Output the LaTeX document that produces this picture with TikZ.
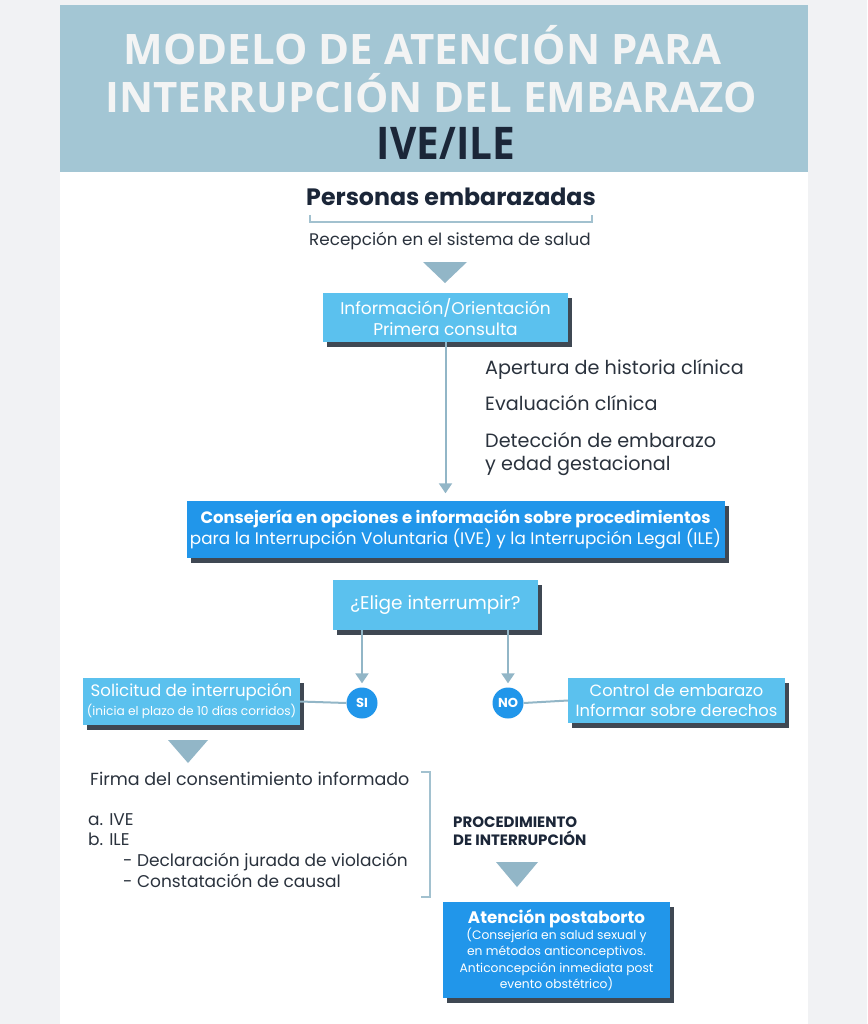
\documentclass[tikz,border=0pt]{standalone}
\usepackage{fontspec}
\setmainfont{Poppins}
\newfontfamily\titlefont{Open Sans}
\newfontfamily\titlenarrow[FakeStretch=0.9]{Open Sans}
\usetikzlibrary{positioning,shadows,arrows.meta}

\definecolor{sidegray}{HTML}{F1F2F4}
\definecolor{headerblue}{HTML}{A3C6D4}
\definecolor{titlewhite}{HTML}{F3F4F4}
\definecolor{navy}{HTML}{1B2638}
\definecolor{darktext}{HTML}{2A323D}
\definecolor{lightblue}{HTML}{5BC1EE}
\definecolor{midblue}{HTML}{2196EA}
\definecolor{steelgray}{HTML}{92B6C7}
\definecolor{shadowblue}{HTML}{1E2836}

\newcommand{\fsz}[2]{\fontsize{#1}{#2}\selectfont}

\tikzset{
  boxshadow/.style={general shadow={fill=shadowblue, shadow xshift=4pt, shadow yshift=-5pt, opacity=0.85}},
  lightbox/.style={fill=lightblue, text=white, align=center, inner sep=0pt, boxshadow},
  bluebox/.style={fill=midblue, text=white, align=center, inner sep=0pt, boxshadow},
  answer/.style={circle, fill=midblue, text=white, minimum size=31pt, inner sep=0pt, font=\bfseries\fsz{13}{13}},
  flowarrow/.style={draw=steelgray, line width=2pt, -{Triangle[width=13pt,length=10pt]}},
  flowline/.style={draw=steelgray, line width=2pt},
  bracketline/.style={draw=steelgray!85, line width=1.5pt},
  bodytext/.style={text=darktext, inner sep=0pt, text height=0.72em, text depth=0.2em}
}

\begin{document}
\begin{tikzpicture}[x=1pt, y=-1pt]
    % Page and header band
    \useasboundingbox (0,0) rectangle (867,1024);
    \fill[sidegray] (0,0) rectangle (867,1024);
    \fill[white] (60,172) rectangle (808,1024);
    \fill[headerblue] (60,5) rectangle (808,172);

    % Title
    \node[text=titlewhite, font=\titlefont\bfseries\fsz{42}{42}, inner sep=0pt, text height=30pt, text depth=0pt] (title1) at (422.5,50) {MODELO DE ATENCIÓN PARA};
    \node[text=titlewhite, font=\titlefont\bfseries\fsz{42}{42}, inner sep=0pt, text height=30pt, text depth=0pt] (title2) at (431,98) {INTERRUPCIÓN DEL EMBARAZO};
    \node[text=navy, font=\titlenarrow\bfseries\fsz{45}{45}, inner sep=0pt, text height=32pt, text depth=0pt] (title3) at (446,143.5) {IVE/ILE};

    % Entry
    \node[text=navy, font=\bfseries\fsz{23.7}{23.7}, inner sep=0pt] (personas) at (451,197) {Personas embarazadas};
    \draw[bracketline] (310,215) -- (310,222) -- (592,222) -- (592,215);
    \node[bodytext, font=\fsz{16.8}{16.8}] (recepcion) at (450,243) {Recepción en el sistema de salud};

    % Big down triangles
    \foreach \cx/\ty/\w/\h in {445/262/44/21, 188/740/40/23, 517/862/42/25} {
        \fill[steelgray] (\cx-\w/2,\ty) -- (\cx+\w/2,\ty) -- (\cx,\ty+\h) -- cycle;
    }

    % Boxes
    \node[lightbox, minimum width=245pt, minimum height=49pt, font=\fsz{17}{21}] (info) at (445.5,317.5)
        {Información/Orientación\\Primera consulta};
    \node[bluebox, minimum width=538pt, minimum height=57pt, font=\fsz{16.8}{20}] (conse) at (455.5,529)
        {{\bfseries\fsz{16.5}{20}Consejería en opciones e información sobre procedimientos}\\para la Interrupción Voluntaria (IVE) y la Interrupción Legal (ILE)};
    \node[lightbox, minimum width=205pt, minimum height=50pt, font=\fsz{18.5}{18.5}] (elige) at (435.5,605) {¿Elige interrumpir?};
    \node[lightbox, minimum width=217pt, minimum height=47pt, font=\fsz{16.6}{19}] (solic) at (191.5,701.5)
        {Solicitud de interrupción\\{\fsz{12.2}{14}(inicia el plazo de 10 días corridos)}};
    \node[lightbox, minimum width=217pt, minimum height=45pt, font=\fsz{16.3}{20}] (control) at (676.5,700.5)
        {Control de embarazo\\Informar sobre derechos};
    \node[bluebox, minimum width=227pt, minimum height=96pt, font=\fsz{12.3}{16.3}] (posta) at (556.5,950)
        {{\bfseries\fsz{16.7}{20}Atención postaborto}\\(Consejería en salud sexual y\\en métodos anticonceptivos.\\Anticoncepción inmediata post\\evento obstétrico)};

    % Answers
    \node[answer] (si) at (362,703) {SI};
    \node[answer] (no) at (508,703) {NO};

    % Checks done in first consultation
    \foreach \ty/\txt in {372/Apertura de historia clínica, 408/Evaluación clínica, 445/Detección de embarazo, 468/y edad gestacional} {
        \node[bodytext, font=\fsz{19.2}{19.2}, anchor=west] at (485,\ty) {\txt};
    }

    % Consent block
    \node[bodytext, font=\fsz{17.5}{17.5}, anchor=west] (firma) at (90,783) {Firma del consentimiento informado};
    \foreach \tx/\ty/\txt in {88/823/a. IVE, 88/843/b. ILE, 123/864/- Declaración jurada de violación, 123/885/- Constatación de causal} {
        \node[bodytext, font=\fsz{17}{17}, anchor=west] at (\tx,\ty) {\txt};
    }
    \draw[bracketline] (421,772) -- (430,772) -- (430,897) -- (421,897);
    \node[text=navy, font=\bfseries\fsz{15}{18}, align=left, anchor=west, inner sep=0pt] (proc) at (453,831.5)
        {PROCEDIMIENTO\\DE INTERRUPCIÓN};

    % Connectors
    \draw[flowarrow, shorten >=7pt] (info.south) -- (info.south |- conse.north);
    \draw[flowarrow, shorten >=4pt] (elige.south -| si) -- (si.north);
    \draw[flowarrow, shorten >=4pt] (elige.south -| no) -- (no.north);
    \draw[flowline] (solic.east) -- (si.west);
    \draw[flowline] (no.east) -- (control.west);
\end{tikzpicture}
\end{document}
